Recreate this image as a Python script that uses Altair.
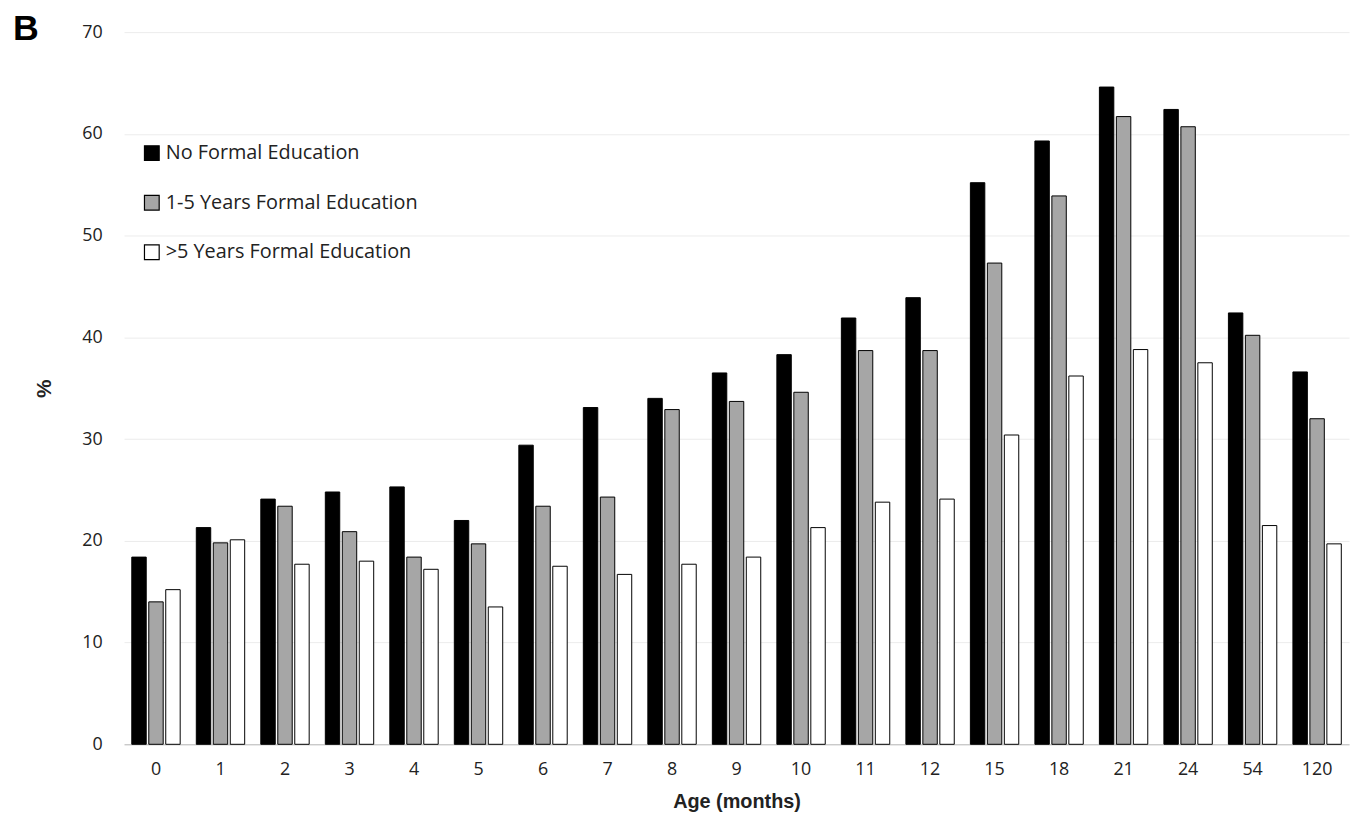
import altair as alt
import pandas as pd

ages = ["0","1","2","3","4","5","6","7","8","9","10","11","12","15","18","21","24","54","120"]
series = ["No Formal Education", "1-5 Years Formal Education", ">5 Years Formal Education"]
no_edu = [18.4,21.3,24.1,24.8,25.3,22.0,29.4,33.1,34.0,36.5,38.3,41.9,43.9,55.2,59.3,64.6,62.4,42.4,36.6]
edu_1_5 = [14.0,19.8,23.4,20.9,18.4,19.7,23.4,24.3,32.9,33.7,34.6,38.7,38.7,47.3,53.9,61.7,60.7,40.2,32.0]
edu_5p = [15.2,20.1,17.7,18.0,17.2,13.5,17.5,16.7,17.7,18.4,21.3,23.8,24.1,30.4,36.2,38.8,37.5,21.5,19.7]
colors = ["#000000", "#a6a6a6", "#ffffff"]

rows = []
for s, vals in zip(series, [no_edu, edu_1_5, edu_5p]):
    for a, v in zip(ages, vals):
        rows.append({"age": a, "series": s, "value": v})
df = pd.DataFrame(rows)

bars = alt.Chart(df).mark_bar(stroke="black", strokeWidth=1).encode(
    x=alt.X("age:N", sort=ages, title="Age (months)",
            scale=alt.Scale(paddingInner=0.25, paddingOuter=0.12),
            axis=alt.Axis(labelAngle=0, labelFontSize=18, titleFontSize=20, titleFontWeight="bold",
                          labelFont="Open Sans", titleFont="Liberation Sans", ticks=False,
                          domainColor="#bbbbbb", labelColor="#222", titleColor="#222",
                          labelPadding=16, titlePadding=14)),
    xOffset=alt.XOffset("series:N", sort=series, scale=alt.Scale(paddingInner=0.15)),
    y=alt.Y("value:Q", title="%", scale=alt.Scale(domain=[0, 70]),
            axis=alt.Axis(values=list(range(0, 71, 10)), labelFontSize=18, titleFontSize=21,
                          titleFontWeight="bold", labelFont="Open Sans", titleFont="Liberation Sans",
                          domain=False, ticks=False, gridColor="#ececec", labelColor="#222",
                          titleColor="#222", labelPadding=22, titlePadding=28)),
    fill=alt.Fill("series:N", sort=series, scale=alt.Scale(domain=series, range=colors),
                  legend=alt.Legend(title=None, orient="none", legendX=18, legendY=112,
                                    symbolType="square", symbolSize=220, symbolStrokeColor="black",
                                    symbolStrokeWidth=1.2, labelFontSize=20, labelFont="Open Sans",
                                    labelColor="#222", rowPadding=30, symbolOffset=0, labelOffset=4,
                                    labelLimit=0)),
)

label = alt.Chart(pd.DataFrame({"t": ["B"]})).mark_text(
    fontSize=36, fontWeight="bold", font="Liberation Sans", align="left", baseline="top"
).encode(text="t:N", x=alt.value(-112), y=alt.value(-20))

chart = alt.layer(bars, label).properties(width=1235, height=718).configure_view(stroke=None)
chart = chart.properties(padding={"left": 5, "top": 0, "right": 5, "bottom": 5})
chart.save("out.html", embed_options={"renderer": "svg", "actions": False})
